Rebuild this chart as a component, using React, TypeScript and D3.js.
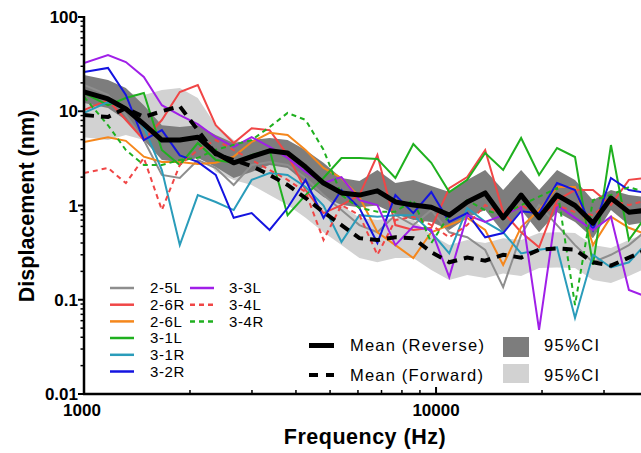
import React from 'react';
import * as d3 from 'd3';

// Frequencies (Hz) of the measurement points
const FREQS = [1000, 1170, 1315, 1479, 1664, 1871, 2105, 2367, 2662, 2994, 3367, 3787, 4259, 4790, 5387, 6059, 6814, 7664, 8619, 9694, 10902, 12262, 13790, 15510, 17444, 19619, 22065, 24816, 27910, 31390, 35303, 39705];

// Individual ears (nm)
const S_25L = [19.0, 14.9, 9.1, 4.95, 2.11, 1.96, 3.04, 2.5, 1.65, 2.69, 2.9, 2.69, 1.96, 1.29, 0.895, 0.62, 0.52, 0.79, 0.62, 0.895, 0.52, 0.46, 0.337, 0.136, 0.49, 1.01, 0.62, 0.38, 0.25, 0.30, 0.38, 0.55];
const S_26R = [10.3, 13.2, 8.07, 4.95, 8.07, 16.0, 19.0, 7.1, 4.6, 6.6, 6.3, 3.43, 1.46, 0.83, 1.01, 1.29, 3.43, 0.62, 0.55, 0.58, 1.53, 2.0, 3.88, 0.85, 0.52, 0.36, 1.14, 1.46, 1.46, 1.01, 1.87, 1.96];
const S_26L = [4.72, 5.3, 4.85, 3.3, 2.9, 2.9, 2.75, 2.84, 3.3, 4.72, 5.9, 5.6, 3.88, 2.5, 1.96, 1.23, 0.52, 0.38, 0.277, 0.52, 0.62, 0.74, 0.55, 0.234, 0.59, 0.895, 1.57, 1.57, 0.38, 0.76, 0.58, 0.49];
const S_31L = [15.6, 11.6, 13.8, 15.6, 3.88, 2.69, 4.6, 3.04, 2.84, 3.43, 3.88, 0.79, 1.29, 1.96, 3.19, 3.19, 3.12, 1.96, 4.5, 2.84, 1.39, 1.87, 3.6, 2.38, 5.2, 2.11, 4.07, 3.27, 0.234, 4.38, 0.43, 0.79];
const S_31R = [9.6, 12.5, 10.8, 6.8, 2.38, 0.38, 1.29, 1.09, 0.895, 1.87, 2.21, 2.11, 1.57, 1.0, 0.41, 0.79, 0.76, 0.79, 0.79, 0.52, 0.31, 0.94, 0.67, 0.52, 0.31, 0.34, 0.36, 0.064, 0.30, 0.22, 0.25, 0.40];
const S_32R = [26, 28.8, 14.9, 4.95, 6.3, 3.4, 2.9, 2.11, 0.74, 0.83, 0.55, 0.94, 1.87, 0.74, 1.46, 0.94, 0.40, 1.29, 0.83, 1.39, 0.67, 0.83, 0.46, 0.51, 0.87, 0.83, 1.73, 1.46, 0.55, 1.96, 1.46, 1.36];
const S_33L = [32.5, 39.5, 33.3, 23.1, 11.6, 9.1, 7.3, 5.3, 4.2, 5.3, 4.2, 3.2, 2.27, 1.73, 2.0, 1.14, 1.01, 0.38, 0.6, 0.55, 0.174, 0.79, 0.67, 0.79, 0.96, 0.048, 1.01, 0.74, 0.55, 0.76, 0.127, 0.107];
const S_34L = [2.21, 2.5, 1.73, 3.19, 0.895, 2.69, 3.88, 4.95, 3.88, 3.04, 2.38, 1.87, 1.39, 0.43, 1.01, 0.79, 0.30, 0.70, 0.76, 0.62, 0.46, 0.62, 1.01, 0.79, 1.01, 0.79, 1.01, 0.85, 0.79, 1.14, 1.01, 1.14];
const S_34R = [14.2, 7.1, 3.88, 2.69, 2.69, 3.04, 3.2, 3.9, 4.4, 4.95, 6.8, 9.6, 8.1, 3.9, 1.29, 0.94, 0.86, 0.86, 1.14, 0.40, 0.79, 1.14, 0.89, 0.79, 1.01, 1.24, 1.53, 0.088, 1.14, 1.29, 1.57, 1.36];

// Means and 95% CI
const MEAN_REV = [16.0, 13.5, 10.6, 7.3, 4.95, 4.95, 5.3, 3.6, 2.84, 3.3, 3.8, 3.6, 2.56, 1.73, 1.36, 1.29, 1.43, 1.09, 1.01, 0.96, 0.79, 1.09, 1.36, 0.74, 1.29, 0.74, 1.29, 1.0, 0.65, 1.2, 0.85, 0.89];
const CI_REV_HI = [24.3, 21.5, 17.7, 11.6, 7.1, 6.8, 7.1, 5.6, 4.6, 4.95, 5.2, 4.95, 3.88, 2.84, 1.96, 1.82, 2.38, 1.73, 1.87, 1.61, 1.39, 1.87, 2.38, 1.46, 2.38, 1.46, 2.38, 1.87, 1.14, 1.46, 1.29, 1.23];
const CI_REV_LO = [12.2, 10.8, 8.07, 4.95, 3.04, 2.9, 3.19, 2.56, 1.96, 2.27, 2.69, 2.5, 1.73, 1.23, 1.01, 0.96, 1.0, 0.81, 0.70, 0.67, 0.55, 0.74, 0.895, 0.52, 0.895, 0.52, 0.85, 0.67, 0.45, 0.895, 0.62, 0.67];
const MEAN_FWD = [9.1, 8.7, 10.8, 8.7, 10.0, 11.3, 6.3, 3.5, 3.04, 2.62, 2.11, 1.65, 1.2, 0.85, 0.62, 0.45, 0.43, 0.46, 0.45, 0.32, 0.25, 0.28, 0.26, 0.30, 0.28, 0.34, 0.35, 0.34, 0.25, 0.23, 0.28, 0.34];
const CI_FWD_HI = [14.9, 14.2, 15.6, 14.9, 16.8, 17.7, 13.8, 7.1, 4.95, 4.38, 3.43, 2.69, 1.96, 1.39, 1.01, 0.74, 0.70, 0.74, 0.70, 0.49, 0.38, 0.43, 0.40, 0.45, 0.43, 0.51, 0.52, 0.51, 0.38, 0.354, 0.43, 0.51];
const CI_FWD_LO = [5.3, 4.95, 5.6, 4.95, 5.6, 6.3, 4.38, 2.27, 1.87, 1.65, 1.29, 1.01, 0.74, 0.52, 0.38, 0.277, 0.25, 0.277, 0.277, 0.207, 0.162, 0.183, 0.17, 0.19, 0.179, 0.217, 0.22, 0.217, 0.162, 0.151, 0.179, 0.217];

const SERIES_NAMES = ['2-5L', '2-6R', '2-6L', '3-1L', '3-1R', '3-2R', '3-3L', '3-4L', '3-4R'];
const SERIES_VALUES = [S_25L, S_26R, S_26L, S_31L, S_31R, S_32R, S_33L, S_34L, S_34R];
const SERIES_COLORS = ['#8e8e8e', '#f04646', '#f5871c', '#1fb01f', '#2a9cba', '#1414e0', '#a01fe8', '#f04646', '#1fb01f'];
const SERIES_DASH = [null, null, null, null, null, null, null, '5,4', '5,4'];

const Y_TICKS = [100, 10, 1, 0.1, 0.01];
const Y_TICK_LABELS = ['100', '10', '1', '0.1', '0.01'];
const X_TICK_LABELS = ['1000', '10000'];

const FONT = '"Liberation Sans", Arial, Helvetica, sans-serif';

export default function App() {
  const W = 641, H = 453;
  const x = d3.scaleLog().domain([1000, 40000]).range([84, 648]);
  const y = d3.scaleLog().domain([0.01, 100]).range([394, 17]);
  const line = d3.line<number>().x((_d, i) => x(FREQS[i])).y(d => y(d));
  const band = (lo: number[], hi: number[]) =>
    d3.area<number>().x((_d, i) => x(FREQS[i])).y0((_d, i) => y(lo[i])).y1((_d, i) => y(hi[i]))(lo) || '';

  const yMinor: number[] = [];
  [0.01, 0.1, 1, 10].forEach(d => { for (let m = 2; m <= 9; m++) yMinor.push(d * m); });
  const xMinor: number[] = [];
  [1000, 10000].forEach(d => { for (let m = 2; m <= 9; m++) { const v = d * m; if (v <= 40000) xMinor.push(v); } });

  const legendRowsY = [288, 304.7, 321.4, 338, 354.8, 371.5];

  return (
    <svg width={W} height={H} style={{ position: 'absolute', left: 0, top: 0, background: '#fff' }} fontFamily={FONT}>
      <defs>
        <clipPath id="plotClip"><rect x={84} y={0} width={570} height={394} /></clipPath>
      </defs>
      <g clipPath="url(#plotClip)">
        <path d={band(CI_FWD_LO, CI_FWD_HI)} fill="#d2d2d2" />
        <path d={band(CI_REV_LO, CI_REV_HI)} fill="#7d7d7d" />
        {SERIES_VALUES.map((vals, i) => (
          <path key={SERIES_NAMES[i]} d={line(vals) || ''} fill="none" stroke={SERIES_COLORS[i]} strokeWidth={2}
            strokeDasharray={SERIES_DASH[i] || undefined} strokeLinejoin="miter" />
        ))}
        <path d={line(MEAN_FWD) || ''} fill="none" stroke="#000" strokeWidth={4} strokeDasharray="10,7" />
        <path d={line(MEAN_REV) || ''} fill="none" stroke="#000" strokeWidth={5} strokeLinejoin="round" />
      </g>

      {/* axes */}
      <line x1={84} y1={16} x2={84} y2={395} stroke="#000" strokeWidth={2.5} />
      <line x1={83} y1={394} x2={641} y2={394} stroke="#000" strokeWidth={2.5} />
      {Y_TICKS.map((t, i) => (
        <g key={'yt' + t}>
          <line x1={78} x2={84} y1={y(t)} y2={y(t)} stroke="#000" strokeWidth={2} />
          <text x={78} y={y(t)} dy="0.36em" textAnchor="end" fontSize={17} fontWeight="bold">{Y_TICK_LABELS[i]}</text>
        </g>
      ))}
      {yMinor.map(t => (
        <line key={'ym' + t} x1={80.5} x2={84} y1={y(t)} y2={y(t)} stroke="#000" strokeWidth={1.5} />
      ))}
      {xMinor.map(t => (
        <line key={'xm' + t} x1={x(t)} x2={x(t)} y1={394} y2={390} stroke="#000" strokeWidth={1.5} />
      ))}
      <line x1={x(10000)} x2={x(10000)} y1={394} y2={387} stroke="#000" strokeWidth={2} />
      {[1000, 10000].map((t, i) => (
        <text key={'xl' + t} x={x(t) - (i === 0 ? 2 : 0)} y={416} textAnchor="middle" fontSize={17} fontWeight="bold">{X_TICK_LABELS[i]}</text>
      ))}

      <text x={365} y={444} textAnchor="middle" fontSize={21.5} fontWeight="bold" letterSpacing={0.5}>Frequency (Hz)</text>
      <text transform="translate(34,206) rotate(-90)" textAnchor="middle" fontSize={21.5} fontWeight="bold">Displacement (nm)</text>

      {/* individual legend */}
      {SERIES_NAMES.map((name, i) => {
        const col = i < 6 ? 0 : 1;
        const row = i < 6 ? i : i - 6;
        const lx = col === 0 ? 110 : 190;
        const tx = col === 0 ? 150 : 229;
        const ly = legendRowsY[row];
        return (
          <g key={'lg' + name}>
            <line x1={lx} x2={lx + 24} y1={ly} y2={ly} stroke={SERIES_COLORS[i]} strokeWidth={2.5}
              strokeDasharray={SERIES_DASH[i] || undefined} />
            <text x={tx} y={ly} dy="0.36em" fontSize={15} letterSpacing={0.6}>{name}</text>
          </g>
        );
      })}

      {/* mean legend */}
      <line x1={309} x2={334} y1={345.5} y2={345.5} stroke="#000" strokeWidth={5} />
      <line x1={309} x2={334} y1={375} y2={375} stroke="#000" strokeWidth={4} strokeDasharray="9,8" />
      <text x={350} y={351} fontSize={16.5} letterSpacing={1.2}>Mean (Reverse)</text>
      <text x={350} y={381} fontSize={16.5} letterSpacing={1.2}>Mean (Forward)</text>
      <rect x={503} y={337} width={26} height={20} fill="#7d7d7d" />
      <rect x={503} y={364} width={26} height={19} fill="#d2d2d2" />
      <text x={544} y={351} fontSize={16.5} letterSpacing={1.4}>95%CI</text>
      <text x={544} y={381} fontSize={16.5} letterSpacing={1.4}>95%CI</text>
    </svg>
  );
}
